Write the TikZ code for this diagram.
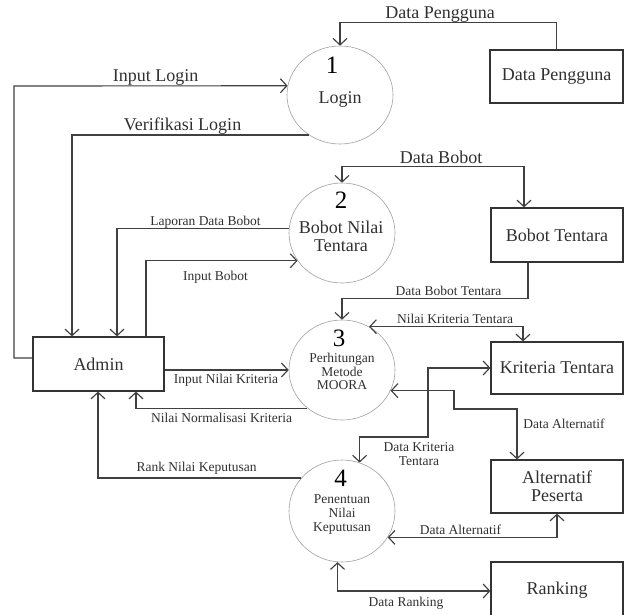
\documentclass[tikz,border=0pt]{standalone}
\usepackage{fontspec}
\setmainfont{Liberation Serif}
\usetikzlibrary{arrows.meta,shapes.geometric}
\definecolor{linec}{HTML}{404040}
\definecolor{boxc}{HTML}{333333}
\definecolor{txtc}{HTML}{303030}
\definecolor{circc}{HTML}{A0A0A0}
\newcommand\dfbig{\fontsize{18}{18}\selectfont}
\newcommand\dfsml{\fontsize{13.5}{14}\selectfont}
\newcommand\dfnum{\fontsize{25}{25}\selectfont}
\begin{document}
\begin{tikzpicture}[x=1pt,y=-1pt,
  >={Straight Barb[length=6.5pt,width=14pt]},
  box/.style={draw=boxc, line width=1.2pt, inner sep=0pt, font=\dfbig, text=txtc, align=center},
  proc/.style={ellipse, draw=circc, line width=0.6pt, minimum width=106pt, minimum height=100pt, inner sep=0pt},
  flow/.style={draw=linec, line width=1.15pt},
  lbl/.style={anchor=base, font=\dfbig, text=txtc, inner sep=0pt},
  slbl/.style={anchor=base, font=\dfsml, text=txtc, inner sep=0pt, align=center},
  num/.style={anchor=base, font=\dfnum, text=black, inner sep=0pt},
  ptxt/.style={anchor=base, font=\dfsml, text=txtc, inner sep=0pt, align=center}]
\useasboundingbox (0,0) rectangle (626,615);

% processes
\node[proc, minimum height=98pt] (p1) at (340,95) {};
\node[proc] (p2) at (342,233) {};
\node[proc] (p3) at (342,370) {};
\node[proc, minimum height=102pt] (p4) at (342,511) {};

\node[num] (n1) at (332,74) {1};
\node[lbl] (t1) at (340,103) {Login};
\node[num] (n2) at (341,208) {2};
\node[lbl] (t2a) at (341,233) {Bobot Nilai};
\node[lbl] (t2b) at (341,251) {Tentara};
\node[num] (n3) at (339,346) {3};
\node[ptxt] (t3a) at (342,362) {Perhitungan};
\node[ptxt] (t3b) at (342,376) {Metode};
\node[ptxt] (t3c) at (342,389) {MOORA};
\node[num] (n4) at (340.5,486) {4};
\node[ptxt] (t4a) at (342,503) {Penentuan};
\node[ptxt] (t4b) at (342,517) {Nilai};
\node[ptxt] (t4c) at (342,531) {Keputusan};

% stores / entities
\node[box, minimum width=133pt, minimum height=53pt] (dp) at (556.5,76.5) {Data Pengguna};
\node[box, minimum width=132pt, minimum height=54pt] (bt) at (557,235) {Bobot Tentara};
\node[box, minimum width=132pt, minimum height=52pt] (kt) at (557,368) {Kriteria Tentara};
\node[box, minimum width=132pt, minimum height=53pt] (ap) at (557,486.5) {Alternatif\\Peserta};
\node[box, minimum width=132pt, minimum height=56pt] (rk) at (557,590) {Ranking};
\node[box, minimum width=131pt, minimum height=54pt] (admin) at (98.5,364) {Admin};

% flows
\draw[flow,->] ([yshift=6pt]admin.west) -| (14,86) -- (p1.170.2);
\draw[flow,->] (p1.232.6) -| ([xshift=-26.5pt]admin.north);
\draw[flow,->] (dp.north) |- ([yshift=23pt]p1.north) -- (p1.north);
\draw[flow,<->] ([xshift=-33pt]bt.north) |- ([yshift=16pt]p2.north) -- (p2.north);
\draw[flow,->] (p2.175.7) -| ([xshift=18.5pt]admin.north);
\draw[flow,->] ([xshift=47.5pt]admin.north) |- (p2.212.5);
\draw[flow,->] ([xshift=-29pt]bt.south) |- ([yshift=21pt]p3.north) -- (p3.north);
\draw[flow,<->] (p3.58) -| ([xshift=-34pt]kt.north);
\draw[flow,->] ([yshift=-6pt]admin.east) -- (p3.west);
\draw[flow,->] (p3.228) -| ([xshift=37.5pt]admin.south);
\draw[flow,->] (p4.141) -| ([xshift=-0.5pt]admin.south);
\draw[flow,<->] (p3.337.6) -| (454,409) -| ([xshift=-40pt]ap.north);
\draw[flow,<->] (kt.west) -| (428,437) -| (p4.70.6);
\draw[flow,<->] (p4.330) -| (ap.south);
\draw[flow,<->] (p4.265) |- ([yshift=-1pt]rk.west);

% labels
\node[lbl] (l1) at (155.5,81.5) {Input Login};
\node[lbl] (l2) at (182.5,131) {Verifikasi Login};
\node[lbl] (l3) at (440,19) {Data Pengguna};
\node[lbl] (l4) at (441,163) {Data Bobot};
\node[slbl] (l5) at (205.5,225) {Laporan Data Bobot};
\node[slbl] (l6) at (215.5,280) {Input Bobot};
\node[slbl] (l7) at (226,383) {Input Nilai Kriteria};
\node[slbl] (l8) at (221.5,422.5) {Nilai Normalisasi Kriteria};
\node[slbl] (l9) at (196.5,471.5) {Rank Nilai Keputusan};
\node[slbl] (l10) at (448.5,295) {Data Bobot Tentara};
\node[slbl] (l11) at (455,323) {Nilai Kriteria Tentara};
\node[slbl] (l12) at (564,428) {Data Alternatif};
\node[slbl] (l13a) at (419,451.5) {Data Kriteria};
\node[slbl] (l13b) at (419,465) {Tentara};
\node[slbl] (l14) at (460.5,534) {Data Alternatif};
\node[slbl] (l15) at (406,606.5) {Data Ranking};
\end{tikzpicture}
\end{document}
